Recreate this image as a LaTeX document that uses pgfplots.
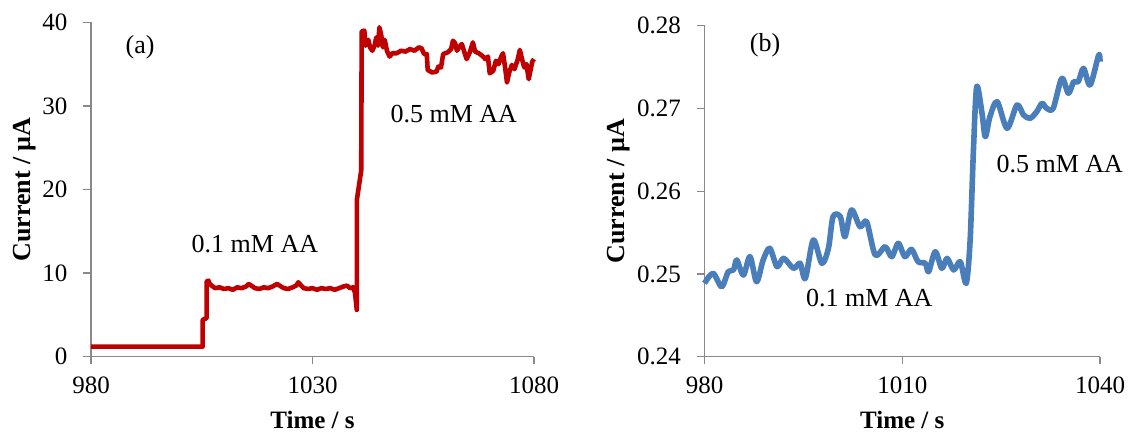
\documentclass[border=0pt]{standalone}
\usepackage{pgfplots}
\pgfplotsset{compat=1.18}
\usepackage{fontspec}
\setmainfont{Liberation Serif}
\definecolor{axgray}{HTML}{898989}
\definecolor{exred}{HTML}{C00000}
\definecolor{exblue}{HTML}{4A7EBB}
\pgfplotsset{
  exstyle/.style={
    scale only axis,
    axis lines*=left,
    axis line style={draw=axgray, line width=0.7pt},
    tick style={draw=axgray, line width=0.7pt},
    tick align=outside,
    major tick length=3.8pt,
    clip=false,
    ticklabel style={font=\fontsize{12.5}{14}\selectfont, text=black},
    yticklabel style={xshift=-4.5pt},
    xticklabel style={yshift=-3pt},
    /pgf/number format/assume math mode=true,
    /pgf/number format/1000 sep={},
    scaled ticks=false,
    xlabel style={font=\fontsize{12.5}{14}\selectfont\bfseries},
    ylabel style={font=\fontsize{13}{15}\selectfont\bfseries},
  }
}
\begin{document}
\begin{tikzpicture}
\useasboundingbox (-45.5pt,-38.65pt) rectangle (518.5pt,178.35pt);
\begin{axis}[exstyle,
  at={(0pt,0pt)}, anchor=origin,
  width=221.5pt, height=167.2pt,
  xmin=980, xmax=1080, ymin=0, ymax=40,
  xtick={980,1030,1080}, ytick={0,10,20,30,40},
  xlabel={Time / s}, ylabel={Current / µA},
  xlabel style={at={(axis description cs:0.5,-0.1615)}, anchor=north, inner sep=0pt},
  ylabel style={at={(axis description cs:-0.149,0.5)}, anchor=center, rotate=0, inner sep=0pt},
]
\addplot[exred, line width=2.3pt, line join=round] coordinates {
(980,1.2) (1005.2,1.2) (1005.2,4.4) (1006.0,4.6) (1006.1,4.7) (1006.1,9.0) (1006.5,9.1) (1006.8,8.7)
(1007.5,8.4) (1008,8.2) (1009,8.3) (1010,8.1) (1011,8.2) (1012,8.0) (1013,8.3) (1014,8.2) (1015,8.4)
(1015.6,8.7) (1016.2,8.5) (1017,8.2) (1018,8.1) (1019,8.3) (1020,8.2) (1021,8.4) (1022,8.7) (1022.6,8.5)
(1023.5,8.2) (1024.5,8.1) (1025.5,8.3) (1026.3,8.5) (1026.8,8.9) (1027.3,8.6) (1028,8.2) (1029,8.1)
(1030,8.2) (1031,8.0) (1032,8.2) (1033,8.1) (1034,8.2) (1035,8.0) (1036,8.2) (1037,8.4) (1037.8,8.5)
(1038.5,8.2) (1039.2,8.3) (1039.6,7.6) (1040.0,5.6) (1040.0,18.7) (1041.0,22.3) (1041.1,38.9)
(1041.7,39.0) (1042.0,37.2) (1042.6,37.9) (1043.0,37.0) (1043.5,36.6) (1044.0,37.2) (1044.4,38.2)
(1044.8,37.2) (1045.1,39.4) (1045.5,38.5) (1045.9,37.0) (1046.3,37.9) (1046.8,36.6) (1047.4,35.9)
(1048.0,36.3) (1049.0,36.3) (1050.0,36.6) (1051.0,36.5) (1052.0,36.8) (1053.0,36.6) (1054.0,37.0)
(1054.6,36.9) (1055.2,36.2) (1055.8,36.2) (1056.0,34.3) (1057.0,34.0) (1058.0,34.1) (1058.4,34.7)
(1059.0,34.6) (1059.5,36.2) (1060.5,36.4) (1061.3,36.8) (1061.7,37.8) (1062.2,37.5) (1062.6,36.6)
(1063.2,37.1) (1063.7,37.4) (1064.3,36.4) (1064.8,35.6) (1065.5,36.4) (1066.2,37.6) (1066.7,36.5)
(1067.5,36.3) (1068.3,36.0) (1069.0,35.6) (1069.6,35.9) (1070.0,33.9) (1070.8,34.2) (1071.4,35.4)
(1072.0,35.0) (1072.6,35.9) (1073.0,36.3) (1073.5,34.5) (1073.9,32.8) (1074.4,34.0) (1075.0,34.9)
(1075.6,34.4) (1076.3,35.5) (1076.8,36.7) (1077.3,35.6) (1077.8,34.6) (1078.3,35.0) (1078.8,33.2)
(1079.3,34.5) (1079.6,35.3) (1080,35.6)
};
\node[font=\fontsize{13}{15}\selectfont] at (axis cs:991.1,37.0) {(a)};
\node[font=\fontsize{13}{15}\selectfont] at (axis cs:1017.0,13.5) {0.1 mM AA};
\node[font=\fontsize{13}{15}\selectfont] at (axis cs:1061.9,29.0) {0.5 mM AA};
\end{axis}
\begin{axis}[exstyle,
  at={(306.75pt,0pt)}, anchor=origin,
  width=197.75pt, height=165.5pt,
  xmin=980, xmax=1040, ymin=0.24, ymax=0.28,
  xtick={980,1010,1040}, ytick={0.24,0.25,0.26,0.27,0.28},
  yticklabel style={/pgf/number format/.cd, fixed, fixed zerofill, precision=2},
  xlabel={Time / s}, ylabel={Current / µA},
  xlabel style={at={(axis description cs:0.5,-0.163)}, anchor=north, inner sep=0pt},
  ylabel style={at={(axis description cs:-0.2162,0.5)}, anchor=center, rotate=0, inner sep=0pt},
]
\addplot[exblue, line width=2.8pt, smooth, tension=0.5, line join=round] coordinates {
(980.0,0.24887) (981.3,0.25008) (982.6,0.24846) (983.6,0.25027) (984.4,0.25048) (984.9,0.25169)
(985.9,0.24987) (986.9,0.25209) (987.9,0.24906) (988.9,0.25169) (989.9,0.25310) (991.0,0.25088)
(992.0,0.25189) (993.5,0.25068) (994.5,0.25129) (995.3,0.24947) (996.5,0.25410) (997.8,0.25129)
(998.8,0.25310) (999.5,0.25692) (1000.6,0.25692) (1001.3,0.25450) (1002.3,0.25773) (1003.6,0.25571)
(1004.6,0.25631) (1005.9,0.25229) (1007.4,0.25329) (1008.4,0.25209) (1009.4,0.25370) (1010.4,0.25209)
(1011.4,0.25298) (1012.4,0.25148) (1013.5,0.25129) (1014.0,0.25027) (1015.0,0.25269) (1016.0,0.25068)
(1016.8,0.25189) (1017.8,0.25048) (1018.8,0.25148) (1019.7,0.24887) (1020.3,0.25410) (1020.8,0.26498)
(1021.3,0.27263) (1022.1,0.26941) (1022.6,0.26659) (1023.3,0.26900) (1024.4,0.27082) (1025.9,0.26760)
(1027.4,0.27042) (1028.4,0.26921) (1029.4,0.26881) (1030.4,0.26961) (1031.2,0.27062) (1031.9,0.27002)
(1032.9,0.27002) (1034.2,0.27364) (1035.2,0.27183) (1036.0,0.27323) (1036.7,0.27323) (1037.5,0.27485)
(1038.5,0.27283) (1039.8,0.27646) (1040.0,0.27565)
};
\node[font=\fontsize{13}{15}\selectfont] at (axis cs:989.2,0.27767) {(b)};
\node[font=\fontsize{13}{15}\selectfont] at (axis cs:1005.0,0.24709) {0.1 mM AA};
\node[font=\fontsize{13}{15}\selectfont] at (axis cs:1033.9,0.26329) {0.5 mM AA};
\end{axis}
\end{tikzpicture}
\end{document}
